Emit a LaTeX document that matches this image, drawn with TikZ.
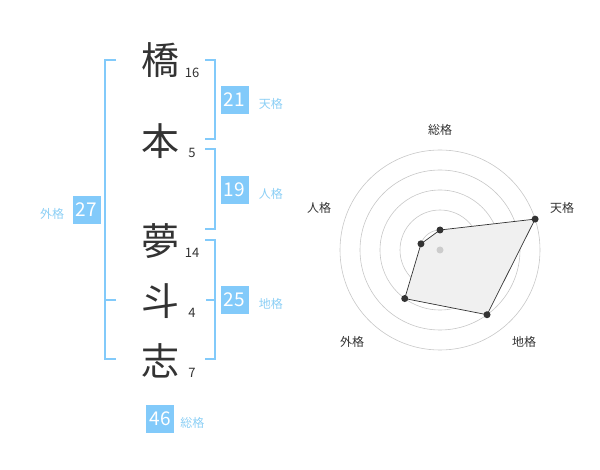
\documentclass[tikz,border=0pt]{standalone}
\usepackage{fontspec}
\setmainfont{Noto Sans CJK JP}
\usepackage{xcolor}
\usetikzlibrary{positioning, calc}
\definecolor{kakublue}{HTML}{82CAFA}
\definecolor{kakutext}{HTML}{8CCFF5}
\definecolor{inkgray}{HTML}{333333}

\begin{document}
\begin{tikzpicture}[x=1pt, y=-1pt,
    kanji/.style={font=\fontsize{38}{38}\selectfont, text=inkgray, inner sep=0pt},
    strokes/.style={font=\fontsize{13}{13}\selectfont, text=inkgray, inner sep=0pt},
    kakubox/.style={fill=kakublue, text=white, minimum size=28pt, inner sep=0pt, font=\fontsize{19}{19}\selectfont},
    kakuname/.style={text=kakutext, font=\fontsize{12}{12}\selectfont, inner sep=0pt, yshift=-4pt},
    radarname/.style={text=inkgray, font=\fontsize{12}{12}\selectfont, inner sep=0pt},
    bracket/.style={draw=kakublue, line width=1.5pt},
    ring/.style={draw=black!22, line width=0.6pt},
    dot/.style={circle, fill=inkgray, inner sep=0pt, minimum size=7pt}]
    \useasboundingbox (0,0) rectangle (600,470);
    % Nombre
    \node[kanji] (k1) at (160,60) {橋};
    \node[kanji] (k2) at (160,141) {本};
    \node[kanji] (k3) at (160,241) {夢};
    \node[kanji] (k4) at (160,301) {斗};
    \node[kanji] (k5) at (160,361) {志};
    % Trazos
    \node[strokes] (n1) at (192,73) {16};
    \node[strokes] (n2) at (192,153) {5};
    \node[strokes] (n3) at (192,253) {14};
    \node[strokes] (n4) at (192,313) {4};
    \node[strokes] (n5) at (192,373) {7};
    % Corchete externo
    \coordinate (la) at (116,60);
    \coordinate (lb) at (116,359);
    \coordinate (lm) at (116,300);
    \draw[bracket] (la) -- (105,60) -- (105,359) -- (lb);
    \draw[bracket] (lm) -- (105,300);
    % Corchetes internos
    \coordinate (ta) at (205,60);
    \coordinate (tb) at (205,139);
    \draw[bracket] (ta) -- (215,60) -- (215,139) -- (tb);
    \coordinate (ja) at (205,149);
    \coordinate (jb) at (205,229);
    \draw[bracket] (ja) -- (215,149) -- (215,229) -- (jb);
    \coordinate (ca) at (205,240);
    \coordinate (cb) at (205,359);
    \coordinate (cm) at (206,300);
    \draw[bracket] (ca) -- (215,240) -- (215,359) -- (cb);
    \draw[bracket] (cm) -- (215,300);
    % Cajas
    \node[kakubox] (ten) at (234.5,100) {21};
    \node[kakuname, right=10pt of ten] {天格};
    \node[kakubox] (jin) at (234.5,190) {19};
    \node[kakuname, right=10pt of jin] {人格};
    \node[kakubox] (chi) at (234.5,300) {25};
    \node[kakuname, right=10pt of chi] {地格};
    \node[kakubox] (gai) at (86.5,210) {27};
    \node[kakuname, left=8pt of gai] {外格};
    \node[kakubox] (sou) at (160,419) {46};
    \node[kakuname, right=6pt of sou] {総格};
    % Radar
    \coordinate (c) at (440,250);
    \foreach \r in {20,40,...,100}
        \draw[ring] (c) circle (\r);
    \coordinate (p1) at ($(c)+(-90:20)$);
    \coordinate (p2) at ($(c)+(-18:100)$);
    \coordinate (p3) at ($(c)+(54:80)$);
    \coordinate (p4) at ($(c)+(126:60)$);
    \coordinate (p5) at ($(c)+(198:20)$);
    \draw[inkgray, line width=0.7pt, fill=black!6] (p1) -- (p2) -- (p3) -- (p4) -- (p5) -- cycle;
    \foreach \p in {p1,p2,p3,p4,p5}
        \node[dot] at (\p) {};
    \node[circle, fill=black!20, inner sep=0pt, minimum size=7pt] at (c) {};
    % Etiquetas
    \node[radarname] at (440,130) {総格};
    \node[radarname] at (562,208) {天格};
    \node[radarname] at (524,342) {地格};
    \node[radarname] at (352,342) {外格};
    \node[radarname] at (319,208) {人格};
\end{tikzpicture}
\end{document}
